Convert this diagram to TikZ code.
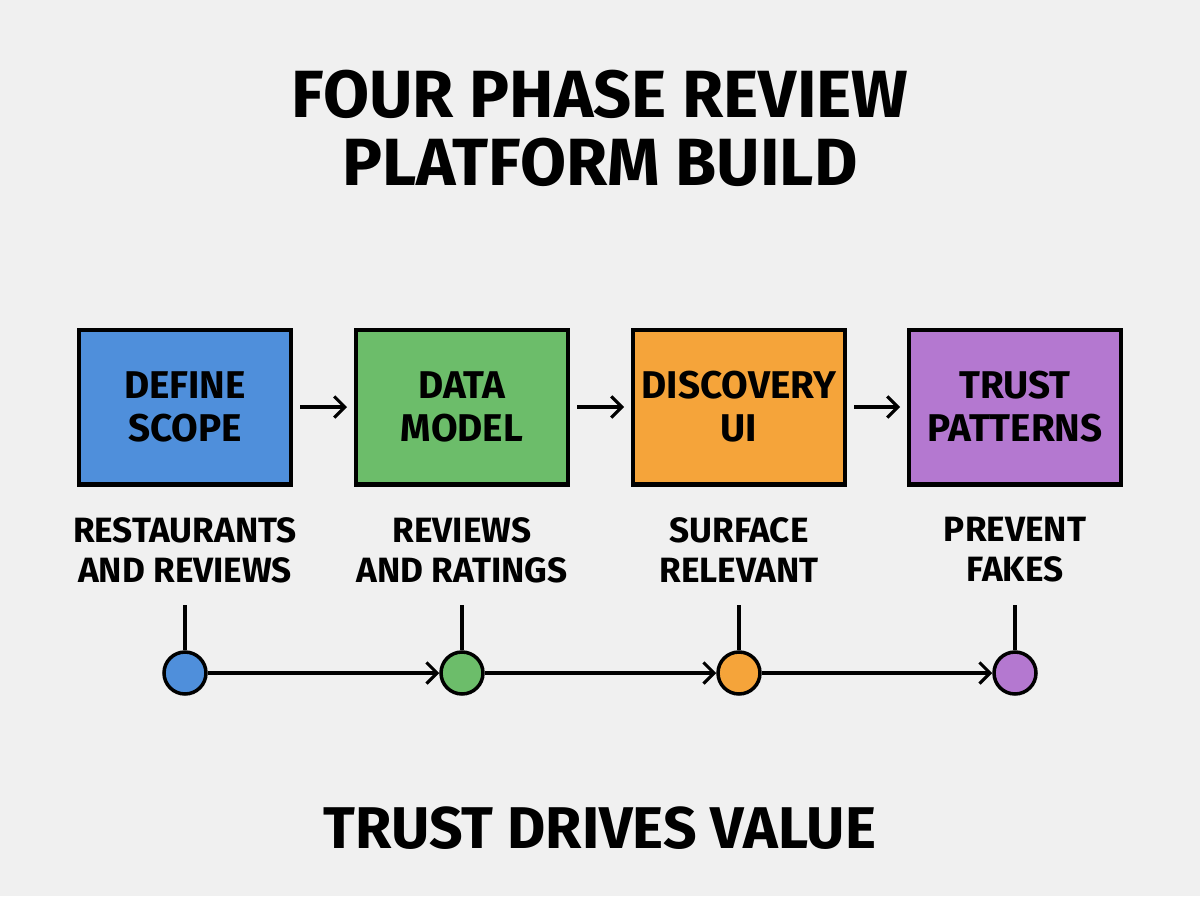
\documentclass[tikz,border=0pt]{standalone}
\usepackage{fontspec}
\setmainfont{Fira Sans}
\usetikzlibrary{arrows.meta}
\definecolor{bgcol}{HTML}{F0F0F0}
\definecolor{scopeblue}{HTML}{4F8FDB}
\definecolor{modelgreen}{HTML}{6CBD6A}
\definecolor{uiorange}{HTML}{F5A43A}
\definecolor{trustpurple}{HTML}{B478D0}

\begin{document}
\begin{tikzpicture}[x=0.02cm,y=-0.02cm,
    phase/.style={draw=black, line width=2.3pt, minimum width=4.24cm, minimum height=3.1cm,
      align=center, font=\fontsize{22}{24.5}\selectfont\bfseries},
    note/.style={align=center, font=\fontsize{20}{22.7}\selectfont\bfseries},
    dot/.style={circle, draw=black, line width=2pt, minimum size=0.84cm, inner sep=0pt},
    link/.style={line width=1.8pt, -{Straight Barb[length=6pt,width=12pt]}},
    gap/.style={shorten <=0.14cm, shorten >=0.14cm}]
        \fill[bgcol] (0,0) rectangle (1200,896);
        % title
        \node[align=center, font=\fontsize{38}{38.6}\selectfont\bfseries](title) at (600,128) {FOUR PHASE REVIEW\\PLATFORM BUILD};
        % phases
        \node[phase, fill=scopeblue](p1) at (185,407) {DEFINE\\SCOPE};
        \node[phase, fill=modelgreen](p2) at (462,407) {DATA\\MODEL};
        \node[phase, fill=uiorange](p3) at (739,407) {DISCOVERY\\UI};
        \node[phase, fill=trustpurple](p4) at (1015,407) {TRUST\\PATTERNS};
        \draw[link, gap](p1)--(p2);
        \draw[link, gap](p2)--(p3);
        \draw[link, gap](p3)--(p4);
        % notes
        \node[note](n1) at (185,550) {RESTAURANTS\\AND REVIEWS};
        \node[note](n2) at (462,550) {REVIEWS\\AND RATINGS};
        \node[note](n3) at (739,550) {SURFACE\\RELEVANT};
        \node[note](n4) at (1015,550) {PREVENT\\FAKES};
        % timeline
        \node[dot, fill=scopeblue](d1) at (185,673) {};
        \node[dot, fill=modelgreen](d2) at (462,673) {};
        \node[dot, fill=uiorange](d3) at (739,673) {};
        \node[dot, fill=trustpurple](d4) at (1015,673) {};
        \coordinate(t1) at (185,605);
        \coordinate(t2) at (462,605);
        \coordinate(t3) at (739,605);
        \coordinate(t4) at (1015,605);
        \draw[line width=1.8pt](t1)--(d1);
        \draw[line width=1.8pt](t2)--(d2);
        \draw[line width=1.8pt](t3)--(d3);
        \draw[line width=1.8pt](t4)--(d4);
        \draw[link](d1)--(d2);
        \draw[link](d2)--(d3);
        \draw[link](d3)--(d4);
        % footer
        \node[font=\fontsize{33.5}{36}\selectfont\bfseries](footer) at (600,828) {TRUST DRIVES VALUE};
\end{tikzpicture}
\end{document}
